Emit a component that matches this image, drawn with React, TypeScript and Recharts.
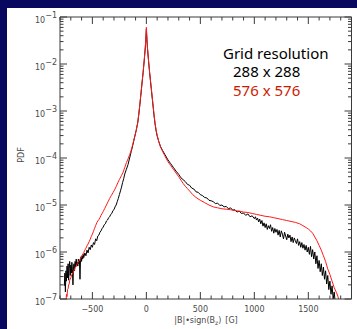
import React from "react";
import { LineChart, Line, XAxis, YAxis } from "recharts";

// |B|*sign(Bz) [G] vs log10(PDF)
const black288: [number, number][] = [
  [-760, -6.72], [-755, -6.45], [-750, -6.85], [-745, -6.4], [-740, -6.62], [-735, -6.3], [-730, -6.55],
  [-725, -6.25], [-720, -6.6], [-715, -6.35], [-710, -6.2], [-705, -6.5], [-700, -6.28], [-695, -6.45],
  [-690, -6.22], [-685, -6.38], [-680, -6.7], [-675, -6.3], [-670, -6.25], [-665, -6.4], [-660, -6.2],
  [-655, -6.32], [-650, -6.15], [-645, -6.28], [-640, -6.22], [-635, -6.3], [-630, -6.15], [-625, -6.25],
  [-620, -6.18], [-615, -6.58], [-610, -6.18], [-605, -6.1], [-600, -6.2], [-595, -6.08], [-590, -6.15],
  [-585, -6.05], [-580, -6.12], [-570, -6.02], [-560, -6.08], [-550, -5.96], [-540, -6.02], [-530, -5.9],
  [-520, -5.95], [-510, -5.85], [-500, -5.9], [-490, -5.8], [-480, -5.84], [-470, -5.72], [-460, -5.76],
  [-450, -5.66], [-440, -5.64], [-430, -5.58], [-420, -5.55], [-410, -5.5], [-400, -5.47], [-390, -5.42],
  [-380, -5.4], [-370, -5.34], [-360, -5.32], [-350, -5.27], [-340, -5.25], [-330, -5.2], [-320, -5.18],
  [-310, -5.12], [-300, -5.1], [-290, -5.04], [-280, -5.0], [-270, -4.93], [-260, -4.86], [-250, -4.78],
  [-240, -4.7], [-230, -4.62], [-220, -4.52], [-210, -4.44], [-200, -4.34], [-185, -4.24], [-170, -4.14],
  [-155, -4.0], [-140, -3.86], [-125, -3.72], [-110, -3.57], [-95, -3.42], [-80, -3.25], [-70, -3.07],
  [-60, -2.86], [-45, -2.52], [-30, -2.18], [-20, -1.93], [-10, -1.66], [-5, -1.48], [0, -1.26],
  [5, -1.48], [10, -1.66], [20, -1.93], [30, -2.18], [45, -2.52], [60, -2.85], [70, -3.08], [80, -3.27],
  [90, -3.42], [100, -3.53], [115, -3.65], [130, -3.75], [150, -3.84], [170, -3.92], [200, -4.04],
  [225, -4.12], [250, -4.2], [275, -4.28], [300, -4.35], [320, -4.42], [340, -4.46], [360, -4.5],
  [380, -4.56], [400, -4.58], [420, -4.64], [440, -4.66], [460, -4.72], [480, -4.73], [500, -4.78],
  [520, -4.8], [540, -4.84], [560, -4.85], [580, -4.9], [600, -4.91], [620, -4.93], [640, -4.97],
  [660, -4.96], [680, -5.01], [700, -5.0], [720, -5.04], [740, -5.03], [760, -5.08], [780, -5.06],
  [800, -5.11], [820, -5.1], [840, -5.15], [860, -5.13], [880, -5.18], [900, -5.17], [920, -5.22],
  [940, -5.19], [960, -5.25], [980, -5.23], [1000, -5.29], [1010, -5.25], [1020, -5.32], [1030, -5.28],
  [1040, -5.36], [1050, -5.3], [1060, -5.4], [1070, -5.33], [1080, -5.45], [1090, -5.38], [1100, -5.48],
  [1110, -5.4], [1120, -5.52], [1130, -5.44], [1140, -5.5], [1150, -5.42], [1160, -5.56], [1170, -5.48],
  [1180, -5.6], [1190, -5.5], [1200, -5.58], [1210, -5.52], [1220, -5.64], [1230, -5.54], [1240, -5.68],
  [1250, -5.55], [1260, -5.62], [1270, -5.72], [1280, -5.58], [1290, -5.66], [1300, -5.74], [1310, -5.62],
  [1320, -5.7], [1330, -5.64], [1340, -5.78], [1350, -5.68], [1360, -5.8], [1370, -5.7], [1380, -5.76],
  [1390, -5.82], [1400, -5.72], [1410, -5.86], [1420, -5.78], [1430, -5.9], [1440, -5.8], [1450, -5.92],
  [1460, -5.84], [1470, -5.96], [1480, -5.86], [1490, -6.0], [1500, -5.9], [1510, -6.05], [1520, -5.88],
  [1530, -6.1], [1540, -5.95], [1550, -6.15], [1560, -6.0], [1570, -6.25], [1580, -6.08], [1590, -6.35],
  [1600, -6.18], [1610, -6.42], [1620, -6.25], [1630, -6.5], [1640, -6.32], [1650, -6.58], [1660, -6.4],
  [1670, -6.68], [1680, -6.5], [1690, -6.8], [1700, -6.62], [1710, -6.9], [1720, -6.72], [1730, -7.0],
  [1740, -6.85], [1750, -7.1], [1760, -7.2],
];

const red576: [number, number][] = [
  [-745, -7.05], [-740, -6.9], [-735, -6.95], [-730, -6.8], [-725, -6.78], [-720, -6.7], [-715, -6.68],
  [-710, -6.6], [-700, -6.55], [-690, -6.48], [-680, -6.44], [-670, -6.4], [-660, -6.33], [-650, -6.3],
  [-640, -6.24], [-630, -6.22], [-620, -6.17], [-610, -6.14], [-600, -6.1], [-590, -6.05], [-580, -6.01],
  [-570, -5.96], [-560, -5.92], [-550, -5.87], [-540, -5.83], [-530, -5.78], [-520, -5.73], [-510, -5.67],
  [-500, -5.62], [-490, -5.56], [-480, -5.5], [-470, -5.44], [-460, -5.38], [-450, -5.34], [-440, -5.31],
  [-430, -5.27], [-420, -5.22], [-410, -5.18], [-400, -5.14], [-385, -5.07], [-370, -5.0], [-355, -4.93],
  [-340, -4.86], [-325, -4.8], [-310, -4.74], [-295, -4.68], [-280, -4.61], [-265, -4.53], [-250, -4.46],
  [-230, -4.37], [-215, -4.3], [-200, -4.2], [-185, -4.1], [-170, -4.02], [-155, -3.93], [-140, -3.83],
  [-125, -3.7], [-110, -3.56], [-95, -3.42], [-80, -3.25], [-70, -3.06], [-60, -2.85], [-45, -2.5],
  [-30, -2.17], [-20, -1.92], [-10, -1.64], [-5, -1.44], [0, -1.22], [5, -1.45], [10, -1.64], [20, -1.92],
  [30, -2.17], [45, -2.5], [60, -2.83], [70, -3.05], [80, -3.25], [90, -3.4], [100, -3.52], [115, -3.65],
  [130, -3.76], [150, -3.86], [170, -3.95], [200, -4.08], [225, -4.16], [250, -4.24], [275, -4.32],
  [300, -4.4], [320, -4.47], [340, -4.54], [360, -4.6], [380, -4.65], [400, -4.7], [430, -4.78],
  [460, -4.84], [500, -4.9], [540, -4.95], [580, -5.0], [620, -5.04], [660, -5.06], [700, -5.08],
  [740, -5.09], [780, -5.1], [820, -5.12], [860, -5.13], [900, -5.15], [940, -5.16], [980, -5.18],
  [1020, -5.2], [1060, -5.22], [1100, -5.24], [1140, -5.25], [1180, -5.27], [1220, -5.29], [1260, -5.31],
  [1300, -5.33], [1340, -5.35], [1380, -5.37], [1420, -5.4], [1450, -5.44], [1480, -5.48], [1500, -5.51],
  [1520, -5.55], [1540, -5.6], [1560, -5.68], [1580, -5.76], [1600, -5.86], [1620, -5.96], [1640, -6.08],
  [1660, -6.2], [1680, -6.36], [1700, -6.48], [1720, -6.62], [1740, -6.76], [1760, -6.86], [1775, -6.95],
  [1790, -7.1],
];

const xMajor = [-500, 0, 500, 1000, 1500];
const xTicks = [
  -800, -700, -600, -500, -400, -300, -200, -100, 0, 100, 200, 300, 400, 500, 600, 700, 800, 900,
  1000, 1100, 1200, 1300, 1400, 1500, 1600, 1700, 1800, 1900,
];
const decades = [-7, -6, -5, -4, -3, -2, -1];

const yTicks: number[] = [];
decades.forEach((d) => {
  yTicks.push(Math.pow(10, d));
  if (d < -1) [2, 3, 4, 5, 6, 7, 8, 9].forEach((m) => yTicks.push(m * Math.pow(10, d)));
});

const toRows = (pts: [number, number][]) => pts.map(([x, lg]) => ({ x, pdf: Math.pow(10, lg) }));
const blackData = toRows(black288);
const redData = toRows(red576);

const AX = "#3a3a3a";
const LBL = "#4a4a4a";
const FONT = "'DejaVu Sans', sans-serif";

const isDecade = (v: number) => {
  const e = Math.log10(v);
  return Math.abs(e - Math.round(e)) < 1e-6;
};

const XTick = (props: any) => {
  const { x, y, payload, side } = props;
  const v = payload.value;
  const major = xMajor.includes(v);
  const len = major ? 7 : 3.5;
  const dir = side === "top" ? 1 : -1;
  return (
    <g>
      <line x1={x} x2={x} y1={y} y2={y + dir * len} stroke={AX} strokeWidth={1} />
      {major && side !== "top" && (
        <text x={x} y={y + 13} textAnchor="middle" fontSize={8} fill={LBL} fontFamily={FONT}>
          {v < 0 ? `\u2212${-v}` : v}
        </text>
      )}
    </g>
  );
};

const YTick = (props: any) => {
  const { x, y, payload, side } = props;
  const v = payload.value;
  const major = isDecade(v);
  const len = major ? 7 : 3.5;
  const dir = side === "right" ? -1 : 1;
  const e = Math.round(Math.log10(v));
  return (
    <g>
      <line x1={x} x2={x + dir * len} y1={y} y2={y} stroke={AX} strokeWidth={1} />
      {major && side !== "right" && (
        <text x={x - 3} y={y + 5.5} textAnchor="end" fontSize={8} fill={LBL} fontFamily={FONT}>
          10<tspan dy={-4.5}>{`\u2212${-e}`}</tspan>
        </text>
      )}
    </g>
  );
};

export default function App() {
  return (
    <div style={{ position: "absolute", left: 0, top: 0, width: 357, height: 329, background: "#08085f", overflow: "hidden" }}>
      <div style={{ position: "absolute", left: 7, top: 8, width: 350, height: 321, background: "#ffffff" }} />
      <div style={{ position: "absolute", left: 0, top: 0 }}>
        <LineChart width={357} height={329} margin={{ top: 12, left: 20, right: 0.5, bottom: 5 }}>
          <XAxis xAxisId="b" type="number" dataKey="x" domain={[-800, 1900]} ticks={xTicks} interval={0}
            height={25} tickSize={0} tickMargin={0} tickLine={false} axisLine={{ stroke: AX }}
            tick={<XTick side="bottom" />} allowDataOverflow />
          <XAxis xAxisId="t" orientation="top" type="number" dataKey="x" domain={[-800, 1900]} ticks={xTicks}
            interval={0} height={5} tickSize={0} tickMargin={0} tickLine={false} axisLine={{ stroke: AX }}
            tick={<XTick side="top" />} allowDataOverflow />
          <YAxis yAxisId="l" scale="log" domain={[1e-7, 1e-1]} ticks={yTicks} interval={0} width={40}
            tickSize={0} tickMargin={0} tickLine={false} axisLine={{ stroke: AX }}
            tick={<YTick side="left" />} allowDataOverflow />
          <YAxis yAxisId="r" orientation="right" scale="log" domain={[1e-7, 1e-1]} ticks={yTicks} interval={0}
            width={5} tickSize={0} tickMargin={0} tickLine={false} axisLine={{ stroke: AX }}
            tick={<YTick side="right" />} allowDataOverflow />
          <Line xAxisId="b" yAxisId="l" data={blackData} dataKey="pdf" type="linear" stroke="#000000"
            strokeWidth={1} dot={false} isAnimationActive={false} />
          <Line xAxisId="b" yAxisId="l" data={redData} dataKey="pdf" type="linear" stroke="#ff1a1a"
            strokeWidth={1} dot={false} isAnimationActive={false} />
        </LineChart>
      </div>
      <svg width={357} height={329} style={{ position: "absolute", left: 0, top: 0, pointerEvents: "none" }}>
        <text x={223} y={58.5} fontSize={15} fontFamily="'Noto Sans', sans-serif" fill="#000">Grid resolution</text>
        <text x={233} y={77} fontSize={15} fontFamily="'Noto Sans', sans-serif" fill="#000">288 x 288</text>
        <text x={233} y={96} fontSize={15} fontFamily="'Noto Sans', sans-serif" fill="#cc1a00">576 x 576</text>
        <text x={206} y={323} textAnchor="middle" fontSize={8} fill={LBL} fontFamily={FONT}>
          |B|•sign(B<tspan fontSize={6} dy={2}>z</tspan><tspan dy={-2}>)</tspan><tspan dx={4}>[G]</tspan>
        </text>
        <text x={24} y={155} transform="rotate(-90 24 155)" textAnchor="middle" fontSize={8} fill={LBL} fontFamily={FONT}>
          PDF
        </text>
      </svg>
    </div>
  );
}
